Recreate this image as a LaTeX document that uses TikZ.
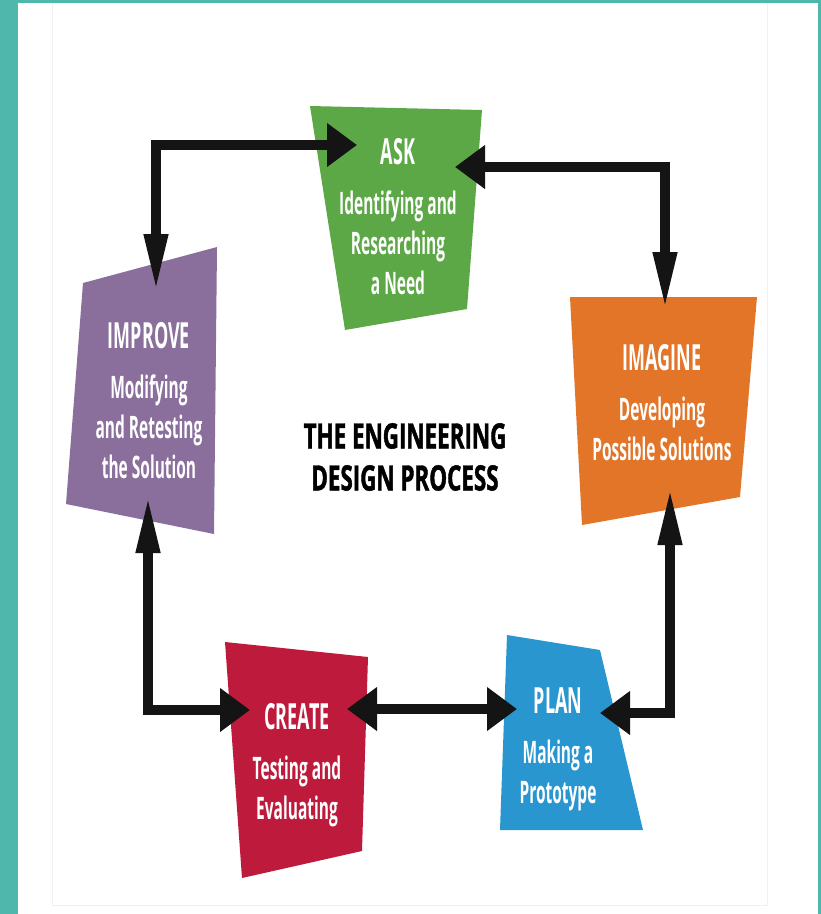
\documentclass[tikz,border=0pt]{standalone}
\usepackage{fontspec}
\usetikzlibrary{arrows.meta}
\newfontfamily\boxfont[FakeStretch=0.5]{Open Sans}
\newfontfamily\titlefont[FakeStretch=0.64,FakeBold=1.2]{Open Sans}
\newcommand\cardhead[1]{{\fontsize{36}{40}\selectfont #1}\\[10pt]}
\definecolor{frameteal}{RGB}{80,183,173}
\definecolor{askgreen}{RGB}{92,168,70}
\definecolor{imagineorange}{RGB}{226,117,40}
\definecolor{improvepurple}{RGB}{138,110,156}
\definecolor{createred}{RGB}{190,26,60}
\definecolor{planblue}{RGB}{42,150,208}
\tikzset{
  card/.style={text=white, align=center, inner sep=0pt,
    font=\boxfont\bfseries\fontsize{31}{40}\selectfont},
  link/.style={draw=black!92, line width=10pt},
  Hhead/.tip={Triangle[length=30pt,width=42pt]},
  Vhead/.tip={Triangle[length=58pt,width=22pt]},
}
\begin{document}
\begin{tikzpicture}[x=1pt,y=-1pt]
\useasboundingbox (0,0) rectangle (821,914);
\fill[white] (0,0) rectangle (821,914);
\fill[frameteal] (0,0) rectangle (18,914);
\fill[frameteal] (0,0) rectangle (821,3);
\fill[frameteal] (818,0) rectangle (821,914);
\draw[black!6] (52,3) -- (52,905) -- (767,905) -- (767,3);

% boxes
\fill[askgreen] (310,106) -- (482,110) -- (467,309) -- (345,330) -- cycle;
\fill[imagineorange] (570,297) -- (757,297) -- (740,497) -- (582,525) -- cycle;
\fill[improvepurple] (83,283) -- (217,247) -- (214,534) -- (66,504) -- cycle;
\fill[createred] (225,642) -- (368,657) -- (362,851) -- (242,878) -- cycle;
\fill[planblue] (507,635) -- (600,650) -- (643,830) -- (500,830) -- cycle;

\node[card] (ask) at (398,217) {\cardhead{ASK}Identifying and\\Researching\\a Need};
\node[card] (imagine) at (662,403) {\cardhead{IMAGINE}Developing\\Possible Solutions};
\node[card] (improve) at (149,401) {\cardhead{IMPROVE}Modifying\\and Retesting\\the Solution};
\node[card] (create) at (297,765) {\cardhead{CREATE}Testing and\\Evaluating};
\node[card] (plan) at (558,749) {\cardhead{PLAN}Making a\\Prototype};
\node[align=center, inner sep=0pt, font=\titlefont\bfseries\fontsize{35}{42}\selectfont]
  (title) at (405,457) {THE ENGINEERING\\DESIGN PROCESS};

% arrow ends
\coordinate (ask-w) at (357,145);
\coordinate (ask-e) at (455,167);
\coordinate (imagine-n) at (665,310);
\coordinate (imagine-s) at (670,487);
\coordinate (plan-e) at (600,713);
\coordinate (plan-w) at (517,709);
\coordinate (create-e) at (347,709);
\coordinate (create-w) at (250,710);
\coordinate (improve-s) at (148,495);
\coordinate (improve-n) at (156,292);

\draw[link, Vhead-Hhead] (improve-n) |- (ask-w);
\draw[link, Hhead-Vhead] (ask-e) -| (imagine-n);
\draw[link, Vhead-Hhead] (imagine-s) |- (plan-e);
\draw[link, Hhead-Hhead] (create-e) -- (plan-w);
\draw[link, Vhead-Hhead] (improve-s) |- (create-w);
\end{tikzpicture}
\end{document}
